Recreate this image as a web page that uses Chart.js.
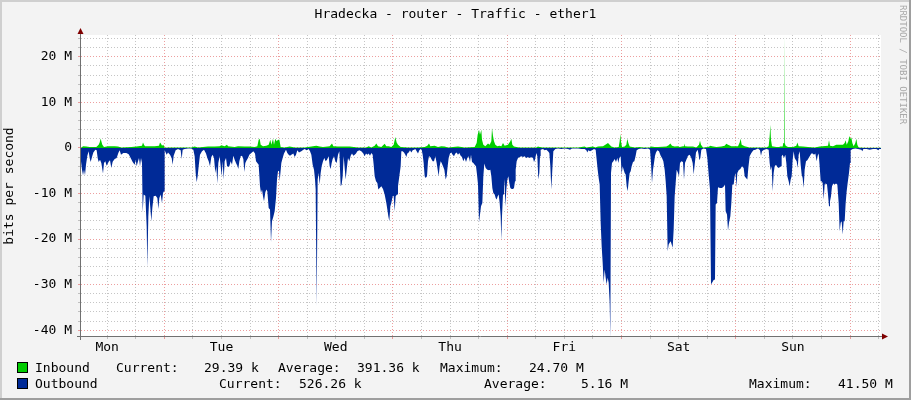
<!DOCTYPE html>
<html>
<head>
<meta charset="utf-8">
<style>
html,body{margin:0;padding:0;background:#F3F3F3;}
#c{display:block;}
</style>
<script src="https://cdn.jsdelivr.net/npm/chart.js@4/dist/chart.umd.min.js"></script>
</head>
<body>
<canvas id="c" width="911" height="400"></canvas>
<script>
// ---------- data (x: hours since Mon 06:30, y: Mbit/s) ----------
const chartTitle = 'Hradecka - router - Traffic - ether1';
const yAxisTitle = 'bits per second';
const dayNames = ['Mon','Tue','Wed','Thu','Fri','Sat','Sun'];
const xTickHours = [5.5,11.5,17.5,23.5,29.5,35.5,41.5,47.5,53.5,59.5,65.5,71.5,77.5,83.5,89.5,95.5,101.5,107.5,113.5,119.5,125.5,131.5,137.5,143.5,149.5,155.5,161.5,167.5];
const yTicksM = [-40,-38,-36,-34,-32,-30,-28,-26,-24,-22,-20,-18,-16,-14,-12,-10,-8,-6,-4,-2,0,2,4,6,8,10,12,14,16,18,20,22,24];

const inT = [0,0.42,1.12,1.82,3.22,3.71,3.92,4.13,4.27,4.48,4.83,5.67,7.07,7.77,8.47,10.57,11.62,12.81,13.02,13.23,13.44,15.47,16.38,16.59,16.8,17.01,17.29,17.57,18.27,20.37,21.77,23.17,23.87,24.57,26.67,28.07,29.12,29.47,30.17,30.66,30.87,32.27,32.97,34.37,35.42,36.47,37.03,37.31,37.52,37.73,38.22,38.92,39.41,39.76,39.97,40.32,40.53,40.81,41.09,41.37,41.65,41.93,42.77,43.82,44.87,46.97,48.72,49.42,50.12,50.82,52.22,52.71,52.99,53.97,55.37,56.42,58.17,59.92,60.41,60.97,61.67,62.02,62.37,63.07,63.77,64.12,64.61,65.17,65.66,66.01,66.29,66.57,67.13,68.67,70.77,72.17,72.73,73.08,73.36,74.27,74.97,75.67,76.37,77.07,79.17,80.57,82.67,83.09,83.3,83.58,83.79,84.07,84.21,84.49,84.91,85.47,85.82,86.17,86.31,86.52,86.73,87.01,87.43,87.85,88.27,88.62,88.97,89.67,90.16,90.37,90.58,90.93,91.42,92.12,95.62,95.97,96.32,97.02,104.37,105.77,106.12,107.52,108.01,108.57,109.62,110.11,110.67,111.02,111.37,112.07,112.91,113.12,113.26,113.4,113.61,114.17,114.52,114.73,114.94,115.22,116.27,117.32,118.02,119.42,119.77,120.47,121.17,122.92,123.41,123.76,124.11,124.67,125.37,125.72,126.42,126.63,126.84,127.47,128.52,129.22,129.78,129.99,130.2,130.62,131.67,132.23,132.51,133.42,134.47,135.17,135.52,135.87,136.57,137.97,138.32,138.53,138.74,139.37,140.42,142.17,143.92,144.41,144.62,144.76,144.9,145.11,146.02,146.58,146.72,147.35,147.49,147.63,147.77,147.98,148.47,149.52,150.22,150.43,150.71,151.62,152.67,154.07,155.12,156.87,157.08,157.29,157.92,158.62,159.32,160.02,160.37,160.58,160.79,161.14,161.35,161.56,161.77,161.98,162.26,162.61,162.82,163.03,163.31,164.57,167.72,168];
const inV = [0,0.4,0.3,0.2,0.2,0.7,1.2,2.1,1.5,0.7,0.2,0.4,0.4,0.3,0.1,0.2,0.3,0.5,1.2,0.7,0.4,0.4,0.5,1.2,0.9,0.5,0.7,0.05,0.1,0.1,0.1,0.1,0.3,0.1,0.3,0.3,0.4,0.6,0.4,0.7,0.4,0.2,0.4,0.3,0.3,0.2,0.4,1.8,2.0,0.7,0.4,0.5,0.7,1.8,0.7,2.0,0.7,2.0,1.5,1.8,1.8,0.2,0.1,0.3,0.1,0.1,0.4,0.5,0.3,0.2,0.4,1.0,0.4,0.3,0.3,0.3,0.1,0.1,0.4,0.1,0.5,1.0,0.4,0.2,0.9,0.4,0.4,0.2,0.7,2.4,1.2,0.7,0.2,0.1,0.1,0.2,0.5,1.0,0.4,0.5,0.2,0.4,0.3,0.1,0.3,0.1,0.2,1.1,2.9,4.0,2.9,4.0,1.8,0.7,0.4,1.0,0.7,1.5,4.4,2.6,1.5,0.7,0.4,0.5,0.4,1.1,0.5,0.7,1.5,2.0,0.7,0.3,0.2,0.1,0.1,0.3,0.2,0.1,0.1,0.3,0.1,0.3,0.1,0.3,0.4,0.7,1.1,0.7,0.3,0.1,0.2,1.5,3.1,1.5,0.2,0.3,0.7,2.0,1.1,0.3,0.1,0.2,0.1,0.1,0.3,0.2,0.2,0.3,0.6,1.0,0.5,0.3,0.4,0.2,0.4,1.0,0.4,0.3,0.3,0.1,0.7,1.6,0.7,0.1,0.2,0.5,0.4,0.2,0.3,0.5,0.9,0.7,0.4,0.4,1.2,2.0,0.7,0.4,0.1,0.1,0.1,0.4,2.6,5.1,1.8,0.4,0.2,0.2,0.3,0.3,1.1,24.7,1.1,0.5,0.2,0.2,0.5,1.2,0.4,0.3,0.2,0.1,0.3,0.5,1.7,0.5,0.4,0.7,0.7,0.7,1.1,1.7,0.7,1.5,2.6,2.0,2.3,1.1,0.4,1.1,2.0,0.7,0.1,0.05,0.05,0.03];

const outT = [0,0.21,0.42,0.63,0.84,1.05,1.33,1.61,1.82,2.03,2.31,2.59,3.01,3.29,3.5,3.71,3.99,4.27,4.62,4.83,5.11,5.39,5.81,6.09,6.37,6.65,7.07,7.49,7.84,8.12,8.4,8.89,9.52,10.01,10.43,10.85,11.27,11.48,11.69,11.97,12.18,12.39,12.6,12.81,12.95,13.16,13.51,13.79,13.93,14.14,14.35,14.56,14.77,14.98,15.26,15.68,16.03,16.24,16.45,16.73,17.01,17.22,17.43,17.57,17.99,18.27,18.69,19.04,19.25,19.46,19.88,20.37,20.93,21.14,21.35,21.77,22.47,23.17,23.59,23.87,24.08,24.29,24.5,24.71,24.99,25.41,25.83,26.25,26.53,26.81,27.09,27.37,27.65,27.93,28.21,28.42,28.63,28.84,29.12,29.33,29.54,29.75,29.96,30.17,30.45,30.66,30.87,31.15,31.43,31.71,31.99,32.27,32.55,32.83,33.04,33.25,33.53,33.81,34.09,34.3,34.51,34.79,35.07,35.35,35.77,36.19,36.54,36.75,37.03,37.31,37.59,37.8,38.01,38.22,38.43,38.71,38.92,39.13,39.41,39.69,39.9,40.11,40.39,40.67,40.95,41.16,41.37,41.58,41.72,42.07,42.35,42.63,43.05,43.33,43.61,43.89,44.17,44.59,44.87,45.15,45.43,45.78,46.27,46.69,46.97,47.39,47.81,48.09,48.37,48.65,48.93,49.14,49.28,49.49,49.7,49.91,50.12,50.33,50.54,50.82,51.1,51.38,51.66,52.01,52.22,52.43,52.64,52.85,53.13,53.41,53.69,53.97,54.25,54.53,54.74,54.95,55.16,55.37,55.58,55.79,56.07,56.35,56.63,56.91,57.19,57.47,57.75,58.03,58.45,58.87,59.29,59.57,59.85,60.13,60.41,60.69,60.97,61.25,61.46,61.67,61.95,62.23,62.44,62.72,63.07,63.42,63.77,64.12,64.33,64.54,64.75,64.96,65.17,65.45,65.66,65.87,66.08,66.36,66.57,66.85,67.13,67.27,67.55,67.83,68.11,68.32,68.53,68.81,69.09,69.37,69.65,69.93,70.21,70.49,70.77,71.05,71.33,71.54,71.75,71.96,72.17,72.38,72.66,72.87,73.08,73.36,73.57,73.85,74.13,74.41,74.69,74.9,75.11,75.32,75.53,75.74,76.02,76.3,76.58,76.79,77.0,77.21,77.49,77.77,78.05,78.33,78.61,78.89,79.17,79.45,79.73,80.01,80.29,80.57,80.85,81.13,81.41,81.69,81.9,82.11,82.39,82.67,82.95,83.16,83.37,83.58,83.79,84.0,84.28,84.49,84.7,84.98,85.33,85.68,85.96,86.17,86.38,86.59,86.87,87.08,87.29,87.5,87.71,87.92,88.13,88.27,88.41,88.62,88.83,88.97,89.11,89.32,89.53,89.74,89.95,90.16,90.44,90.72,90.93,91.14,91.28,91.49,91.77,92.12,92.47,92.82,93.17,93.52,93.87,94.22,94.57,94.92,95.13,95.34,95.62,95.83,96.04,96.25,96.39,96.53,97.02,97.37,97.72,98.07,98.35,98.56,98.77,98.98,99.19,99.61,100.17,100.87,101.57,102.27,102.69,103.11,104.37,105.07,105.77,106.12,106.33,106.54,106.89,107.31,107.73,108.08,108.29,108.5,108.71,108.92,109.13,109.34,109.55,109.76,109.97,110.18,110.39,110.6,110.81,111.02,111.16,111.3,111.51,111.79,112.07,112.35,112.63,112.84,113.05,113.33,113.54,113.75,113.96,114.17,114.38,114.59,114.8,115.01,115.22,115.43,115.64,115.92,116.2,116.48,116.69,117.11,117.67,118.37,119.07,119.49,119.7,119.91,120.12,120.33,120.54,120.75,121.03,121.38,121.73,122.01,122.29,122.57,122.78,122.99,123.2,123.41,123.62,123.83,124.04,124.25,124.46,124.67,124.88,125.09,125.37,125.58,125.79,126.07,126.42,126.63,126.84,127.12,127.47,127.82,128.17,128.45,128.66,128.87,129.15,129.5,129.71,129.85,130.06,130.27,130.69,131.25,131.53,131.81,132.09,132.3,132.58,132.86,133.14,133.28,133.56,133.77,134.19,134.61,135.03,135.24,135.38,135.66,135.87,136.08,136.36,136.57,136.78,137.06,137.27,137.48,137.62,137.83,138.11,138.46,138.81,139.16,139.37,139.65,139.93,140.14,140.42,140.77,141.19,141.61,142.17,142.59,142.8,143.01,143.43,143.99,144.41,144.62,144.83,145.04,145.25,145.46,145.67,145.95,146.23,146.51,146.79,147.0,147.14,147.35,147.63,147.91,148.12,148.33,148.61,148.82,149.03,149.24,149.45,149.66,149.87,150.08,150.29,150.5,150.71,150.92,151.13,151.34,151.55,151.76,151.97,152.25,152.53,152.81,153.09,153.37,153.65,153.93,154.21,154.49,154.7,154.91,155.12,155.33,155.54,155.75,155.96,156.17,156.38,156.66,156.87,157.08,157.29,157.5,157.71,157.99,158.27,158.55,158.83,159.11,159.32,159.53,159.74,159.95,160.16,160.37,160.58,160.79,161.0,161.28,161.49,161.63,162.05,162.61,163.17,163.87,164.08,164.29,164.99,165.62,166.32,167.02,167.44,167.65,168];
const outV = [-2.9,-4.8,-6.0,-4.8,-6.0,-3.7,-1.7,-0.7,-2.2,-3.1,-2.0,-1.0,-0.4,-0.5,-2.2,-3.1,-2.6,-3.3,-5.6,-3.3,-2.9,-3.9,-3.0,-2.7,-4.4,-3.0,-2.4,-2.2,-1.1,-0.5,-1.5,-1.1,-1.1,-1.4,-2.2,-3.1,-3.7,-2.6,-4.0,-2.9,-2.2,-4.0,-2.2,-3.3,-14.1,-10.2,-10.5,-17.2,-26.1,-15.0,-10.6,-13.2,-16.1,-13.2,-10.6,-10.5,-11.0,-13.4,-11.0,-10.2,-12.1,-9.9,-9.5,-0.5,-1.5,-1.0,-1.5,-2.2,-3.7,-1.7,-0.5,-0.2,-0.5,-2.4,-0.4,-0.2,-0.1,-0.1,-0.4,-1.8,-5.5,-7.5,-6.2,-4.0,-1.5,-0.7,-0.4,-1.2,-2.2,-2.9,-4.0,-2.0,-1.5,-2.2,-5.5,-4.0,-7.8,-3.3,-1.8,-4.0,-6.2,-2.9,-6.9,-2.9,-2.2,-3.9,-4.2,-4.0,-2.9,-3.7,-1.7,-2.6,-3.3,-3.9,-4.6,-2.9,-1.8,-1.7,-2.4,-5.3,-3.3,-2.7,-2.2,-1.5,-1.1,-0.7,-1.2,-2.9,-3.3,-3.7,-8.4,-9.9,-9.1,-10.6,-11.7,-9.7,-9.1,-9.5,-13.2,-13.5,-20.7,-16.1,-15.1,-13.9,-11.0,-6.9,-5.1,-5.0,-7.3,-3.3,-2.2,-1.2,-0.4,-1.1,-1.5,-1.7,-1.5,-1.2,-2.0,-1.5,-0.5,-1.0,-0.7,-0.4,-0.2,-0.5,-0.2,-0.7,-1.5,-3.7,-4.8,-6.9,-9.1,-34.7,-6.9,-5.5,-8.0,-5.5,-4.0,-2.9,-2.2,-2.9,-2.6,-1.8,-4.0,-4.6,-3.3,-2.4,-1.8,-2.9,-3.3,-1.5,-0.7,-8.4,-8.0,-6.2,-1.8,-4.4,-6.9,-4.8,-2.2,-2.9,-1.7,-1.2,-1.7,-1.5,-1.2,-0.7,-0.5,-0.7,-1.2,-1.8,-1.2,-1.5,-1.2,-1.7,-1.1,-1.5,-3.7,-6.2,-7.3,-7.7,-9.1,-8.8,-8.4,-9.0,-10.2,-12.1,-13.5,-15.0,-16.1,-12.8,-12.1,-10.6,-10.5,-13.9,-10.6,-10.2,-8.4,-6.2,-4.0,-0.7,-0.7,-1.0,-1.5,-2.0,-1.2,-1.0,-0.5,-1.0,-0.5,-0.4,-0.2,-0.7,-1.2,-0.5,-0.2,-0.4,-1.5,-3.3,-6.2,-6.6,-6.2,-2.9,-1.8,-2.0,-2.4,-2.9,-2.9,-1.8,-3.3,-4.8,-6.2,-4.0,-2.9,-3.3,-4.0,-4.8,-6.9,-6.2,-4.0,-2.2,-1.2,-1.0,-1.5,-1.8,-1.2,-1.0,-1.5,-1.1,-1.7,-2.0,-2.9,-2.2,-3.1,-2.2,-1.8,-3.1,-1.5,-3.1,-3.3,-3.7,-4.0,-5.8,-8.0,-16.3,-14.6,-12.8,-12.1,-6.2,-3.4,-4.4,-4.8,-4.9,-4.8,-6.2,-8.8,-9.9,-10.2,-11.0,-11.3,-10.6,-10.2,-12.1,-15.0,-20.2,-15.0,-10.2,-6.8,-8.4,-12.8,-9.1,-6.9,-6.2,-7.7,-8.8,-9.0,-9.0,-8.8,-7.3,-4.8,-2.9,-2.2,-2.0,-1.8,-2.0,-1.8,-2.2,-2.0,-2.2,-2.0,-2.2,-3.1,-2.6,-1.1,-1.8,-6.9,-5.5,-1.8,-0.4,-0.2,-0.5,-0.4,-0.7,-1.1,-4.0,-9.1,-4.8,-0.7,-0.2,-0.1,-0.2,-0.1,-0.2,-0.4,-0.1,-0.1,-0.2,-0.2,-0.5,-1.0,-0.5,-0.7,-0.5,-0.2,-0.4,-2.6,-4.8,-6.6,-8.0,-16.4,-21.6,-25.2,-29.6,-26.7,-28.5,-30.0,-28.5,-29.6,-34.0,-41.5,-5.5,-3.3,-2.9,-2.4,-3.1,-2.2,-3.3,-2.2,-1.8,-5.8,-4.0,-4.8,-5.5,-5.8,-8.4,-9.5,-7.3,-5.5,-5.1,-4.0,-3.1,-2.9,-1.7,-0.5,-0.2,-0.1,-0.2,-0.1,-0.4,-3.3,-7.7,-4.8,-3.3,-1.7,-1.0,-0.5,-0.7,-1.7,-2.2,-2.9,-4.8,-7.3,-10.6,-22.7,-21.2,-20.8,-20.5,-21.2,-21.9,-17.9,-10.6,-7.7,-4.8,-5.5,-6.2,-3.3,-2.9,-3.1,-6.9,-3.3,-2.6,-1.7,-1.5,-2.2,-3.3,-5.8,-3.7,-1.0,-0.4,-1.5,-2.7,-2.2,-0.4,-0.1,-0.2,-2.2,-5.8,-9.1,-30.0,-29.5,-29.0,-28.9,-12.4,-12.1,-8.6,-8.8,-8.8,-8.4,-8.0,-13.9,-14.6,-18.1,-16.4,-15.0,-12.1,-8.0,-8.0,-6.2,-5.5,-8.6,-5.5,-4.9,-4.6,-4.0,-4.4,-6.2,-6.6,-6.9,-4.4,-1.8,-1.1,-0.5,-0.4,-0.1,-0.5,-1.7,-0.7,-0.4,-0.2,-0.4,-3.3,-4.9,-4.0,-9.5,-5.5,-4.0,-3.7,-4.2,-4.4,-4.2,-4.0,-1.8,-1.5,-2.2,-1.5,-3.3,-6.2,-7.3,-8.4,-6.9,-6.2,-2.6,-0.7,-2.2,-2.6,-2.9,-4.4,-1.5,-0.7,-3.7,-5.8,-6.6,-8.8,-4.8,-2.9,-2.7,-2.2,-1.7,-1.2,-1.2,-1.5,-1.2,-2.9,-1.7,-1.2,-4.0,-7.3,-7.3,-7.7,-11.3,-8.0,-7.8,-8.0,-10.2,-12.8,-11.7,-10.6,-8.4,-7.8,-8.0,-7.8,-8.0,-12.1,-18.3,-16.4,-16.1,-19.0,-16.1,-16.1,-12.1,-9.5,-7.7,-5.5,-3.3,-0.5,-0.2,-0.1,-0.2,-0.4,-0.7,-0.2,-0.2,-0.4,-0.2,-0.2,-0.5,-0.2,-0.2];

const seriesNames = ['Inbound','Outbound'];
const seriesColors = ['#00CC00','#002A97'];
const statLabels = ['Current:','Average:','Maximum:'];
const inStats = ['29.39 k','391.36 k','24.70 M'];
const outStats = ['526.26 k','5.16 M','41.50 M'];
const watermark = 'RRDTOOL / TOBI OETIKER';

// ---------- chart ----------
const MB = 1e6;
const FONT = 'DejaVu Sans Mono';
const GRID = 'rgba(140,140,140,0.5)';
const MGRID = 'rgba(222,80,80,0.55)';

const toPts = (t, v) => t.map((h, i) => ({x: h, y: v[i] * MB}));

const framePlugin = {
  id: 'frame',
  beforeDraw(chart) {
    const {ctx, chartArea: a, width: W, height: H} = chart;
    ctx.save();
    ctx.fillStyle = '#F3F3F3';
    ctx.fillRect(0, 0, W, H);
    ctx.fillStyle = '#CFCFCF';
    ctx.fillRect(0, 0, W, 2);
    ctx.fillRect(0, 0, 2, H);
    ctx.fillStyle = '#9E9E9E';
    ctx.fillRect(0, H - 2, W, 2);
    ctx.fillRect(W - 2, 0, 2, H);
    ctx.fillStyle = '#FFFFFF';
    ctx.fillRect(a.left, a.top, a.right - a.left, a.bottom - a.top);
    ctx.restore();
  },
  afterDraw(chart) {
    const {ctx, chartArea: a} = chart;
    ctx.save();
    // axes
    ctx.strokeStyle = '#707070';
    ctx.lineWidth = 1;
    ctx.beginPath();
    ctx.moveTo(a.left - 4, a.bottom - 0.5);
    ctx.lineTo(a.right + 3, a.bottom - 0.5);
    ctx.moveTo(a.left - 0.5, a.bottom + 3);
    ctx.lineTo(a.left - 0.5, a.top - 2);
    ctx.stroke();
    ctx.fillStyle = '#7F0000';
    ctx.beginPath();
    ctx.moveTo(a.right + 1, a.bottom - 3.5);
    ctx.lineTo(a.right + 7, a.bottom - 0.5);
    ctx.lineTo(a.right + 1, a.bottom + 2.5);
    ctx.closePath();
    ctx.fill();
    ctx.beginPath();
    ctx.moveTo(a.left - 3.5, a.top - 1);
    ctx.lineTo(a.left - 0.5, a.top - 7);
    ctx.lineTo(a.left + 2.5, a.top - 1);
    ctx.closePath();
    ctx.fill();

    // legend
    ctx.font = '13px "' + FONT + '"';
    ctx.textBaseline = 'middle';
    ctx.textAlign = 'left';
    const rows = [
      {y: 368, stats: inStats, pos: [[116, 204], [278, 357], [440, 529]]},
      {y: 384, stats: outStats, pos: [[219, 299], [484, 581], [749, 838]]}
    ];
    rows.forEach((r, i) => {
      ctx.fillStyle = seriesColors[i];
      ctx.fillRect(17.5, r.y - 5.5, 10, 10);
      ctx.strokeStyle = '#000000';
      ctx.strokeRect(17.5, r.y - 5.5, 10, 10);
      ctx.fillStyle = '#000000';
      ctx.fillText(seriesNames[i], 35, r.y + 1);
      r.pos.forEach((p, k) => {
        ctx.fillText(statLabels[k], p[0], r.y + 1);
        ctx.fillText(r.stats[k], p[1], r.y + 1);
      });
    });

    // watermark
    ctx.font = '9px "' + FONT + '"';
    ctx.fillStyle = '#A8A8A8';
    ctx.translate(902, 5);
    ctx.rotate(Math.PI / 2);
    ctx.textBaseline = 'middle';
    ctx.fillText(watermark, 0, 0);
    ctx.restore();
  }
};

const tickFont = {family: FONT, size: 13, weight: 'normal', lineHeight: 1.2};

new Chart(document.getElementById('c'), {
  type: 'line',
  data: {
    datasets: [
      {label: seriesNames[0], data: toPts(inT, inV), yAxisID: 'y', fill: 'origin',
       backgroundColor: seriesColors[0], borderColor: 'rgba(0,0,0,0)', borderWidth: 0,
       pointRadius: 0, tension: 0},
      {label: seriesNames[1], data: toPts(outT, outV), yAxisID: 'y', fill: 'origin',
       backgroundColor: seriesColors[1], borderColor: 'rgba(0,0,0,0)', borderWidth: 0,
       pointRadius: 0, tension: 0}
    ]
  },
  options: {
    responsive: false,
    devicePixelRatio: 1,
    animation: false,
    events: [],
    layout: {padding: 0},
    plugins: {
      legend: {display: false},
      tooltip: {enabled: false},
      title: {display: true, text: chartTitle, color: '#000000',
              font: {family: FONT, size: 13, weight: 'normal', lineHeight: 1.2},
              padding: {top: 7, bottom: 12.4}}
    },
    scales: {
      x: {
        type: 'linear', min: 0, max: 168,
        afterBuildTicks: s => { s.ticks = xTickHours.map(v => ({value: v})); },
        afterFit: s => { s.height = 63; },
        ticks: {autoSkip: false, maxRotation: 0, minRotation: 0, padding: 1, color: '#000000', font: tickFont,
                callback: v => ((v - 5.5) % 24 === 0) ? dayNames[(v - 5.5) / 24] : ''},
        grid: {color: c => (((c.tick.value - 17.5) % 24) === 0 ? MGRID : GRID), lineWidth: 1, tickLength: 2},
        border: {display: false, dash: [1, 2]}
      },
      y: {
        type: 'linear', position: 'left', min: -41.5 * MB, max: 24.8 * MB,
        afterBuildTicks: s => { s.ticks = yTicksM.map(v => ({value: v * MB})); },
        afterFit: s => { s.width = 81; },
        ticks: {autoSkip: false, padding: 6, color: '#000000', font: tickFont,
                callback: v => (v % (10 * MB) === 0) ? (v === 0 ? '0' : (v / MB) + ' M') : ''},
        grid: {color: c => (c.tick.value % (10 * MB) === 0 ? MGRID : GRID), lineWidth: 1, tickLength: 3},
        border: {display: false, dash: [1, 2]},
        title: {display: true, text: yAxisTitle, color: '#000000', font: tickFont, padding: {top: 2, bottom: 0}}
      },
      yR: {
        type: 'linear', axis: 'y', position: 'right', display: true,
        grid: {display: false, drawTicks: false},
        ticks: {display: false},
        border: {display: false},
        afterFit: s => { s.width = 30; }
      }
    }
  },
  plugins: [framePlugin]
});
</script>
</body>
</html>
